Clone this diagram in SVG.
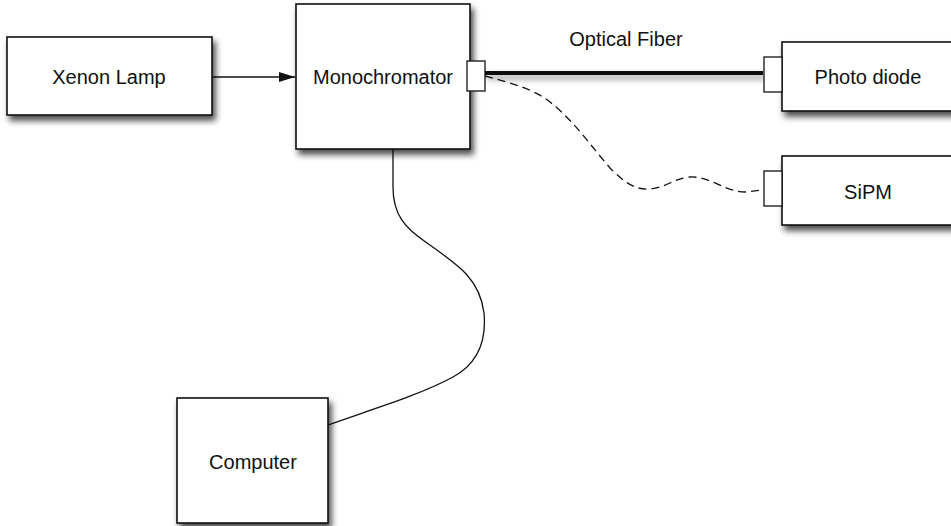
<svg xmlns="http://www.w3.org/2000/svg" width="951" height="526" viewBox="0 0 951 526">
<defs>
<style>
.box{fill:#fff;stroke:#111;stroke-width:1.6}
.port{fill:#fff;stroke:#111;stroke-width:1.3}
.lbl{font-family:"Liberation Sans",Arial,Helvetica,sans-serif;font-size:20px;fill:#111;text-anchor:middle}
.wire{fill:none;stroke:#111;stroke-width:1.3}
</style>
<filter id="sh" x="-10%" y="-10%" width="130%" height="140%">
<feDropShadow dx="3" dy="5" stdDeviation="3" flood-color="#000" flood-opacity="0.7"/>
</filter>
<filter id="lsh" filterUnits="userSpaceOnUse" x="470" y="55" width="310" height="40">
<feDropShadow dx="2" dy="4" stdDeviation="3" flood-color="#000" flood-opacity="0.45"/>
</filter>
<marker id="ah" viewBox="0 0 16 10" refX="16" refY="5" markerWidth="16" markerHeight="10" markerUnits="userSpaceOnUse" orient="auto">
<path d="M0,0 L16,5 L0,10 z" fill="#111"/>
</marker>
</defs>
<rect width="951" height="526" fill="#fff"/>
<g id="connectors">
<line id="lamp-to-mono" x1="212" y1="77" x2="295" y2="77" class="wire" marker-end="url(#ah)"/>
<rect id="optical-fiber" x="485" y="71" width="278" height="4" fill="#111" filter="url(#lsh)"/>
<path id="fiber-sipm" d="M485,76 C515,84 535,90 550,102 C575,122 590,145 610,168 C625,183 635,190 650,189 C665,188 675,178 690,177 C710,176 725,192 745,192 L763,190" class="wire" stroke-dasharray="8,5"/>
<path id="mono-computer" d="M393,149 L393,187 C393,215 405,228 427,243 C460,266 480,280 484,313 C487,345 475,365 453,377 C420,395 370,410 328,425" class="wire"/>
<text class="lbl" x="626" y="46">Optical Fiber</text>
</g>
<g id="xenon-lamp">
<rect class="box" x="7" y="37" width="205" height="78" filter="url(#sh)"/>
<text class="lbl" x="109" y="84">Xenon Lamp</text>
</g>
<g id="monochromator">
<rect class="box" x="296" y="4" width="174" height="145" filter="url(#sh)"/>
<rect class="port" x="467" y="61" width="18" height="30"/>
<text class="lbl" x="383" y="84">Monochromator</text>
</g>
<g id="photo-diode">
<rect class="box" x="782" y="42" width="172" height="69" filter="url(#sh)"/>
<rect class="port" x="764" y="57" width="18" height="35"/>
<text class="lbl" x="868" y="84">Photo diode</text>
</g>
<g id="sipm">
<rect class="box" x="782" y="156" width="172" height="69" filter="url(#sh)"/>
<rect class="port" x="764" y="171" width="18" height="35"/>
<text class="lbl" x="868" y="199">SiPM</text>
</g>
<g id="computer">
<rect class="box" x="177" y="398" width="151" height="125" filter="url(#sh)"/>
<text class="lbl" x="253" y="469">Computer</text>
</g>
</svg>
